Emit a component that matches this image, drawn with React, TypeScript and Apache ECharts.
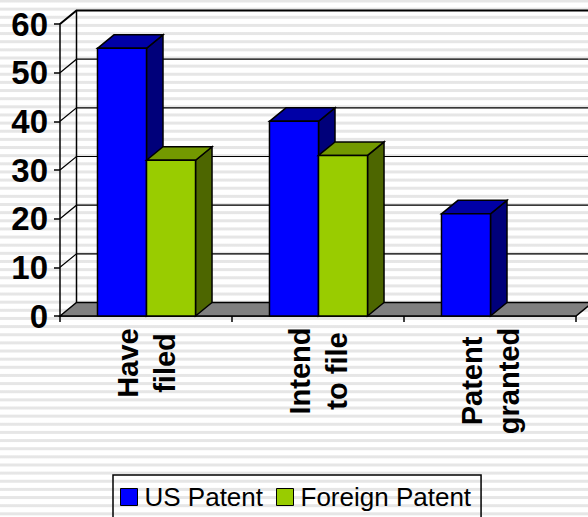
import React, { useEffect, useRef } from "react";
import * as echarts from "echarts";

const categories = ["Have\nfiled", "Intend\nto file", "Patent\ngranted"];
const usPatent = [55, 40, 21];
const foreignPatent = [32, 33, null];
const yTicks = [0, 10, 20, 30, 40, 50, 60];
const labelBlock = [70, 86, 106];

const DX = 16.5;
const DY = 13.5;
const BAR_RATIO = 0.285;
const BAR_SHIFT = 0.5;

function barItem(offsetSign: number, front: string, top: string, side: string) {
  return (params: any, api: any) => {
    const v = api.value(1);
    if (v == null || isNaN(v)) return null;
    const c = api.coord([api.value(0), v]);
    const z = api.coord([api.value(0), 0]);
    const w = api.size([1, 0])[0] * BAR_RATIO;
    const x0 = (offsetSign < 0 ? c[0] - w : c[0]) + BAR_SHIFT;
    const x1 = x0 + w;
    const lineStyle = { stroke: "#000", lineWidth: 1.5 };
    return {
      type: "group",
      children: [
        {
          type: "polygon",
          shape: { points: [[x1, c[1]], [x1 + DX, c[1] - DY], [x1 + DX, z[1] - DY], [x1, z[1]]] },
          style: { fill: side, ...lineStyle },
        },
        {
          type: "polygon",
          shape: { points: [[x0, c[1]], [x0 + DX, c[1] - DY], [x1 + DX, c[1] - DY], [x1, c[1]]] },
          style: { fill: top, ...lineStyle },
        },
        {
          type: "rect",
          shape: { x: x0, y: c[1], width: w, height: z[1] - c[1] },
          style: { fill: front, ...lineStyle },
        },
      ],
    };
  };
}

function wallItem(params: any, api: any) {
  const tick = api.value(1);
  const cs = params.coordSys;
  const y = api.coord([0, tick])[1];
  const xl = cs.x;
  const xr = cs.x + cs.width;
  const children: any[] = [];
  if (tick === 0) {
    children.push({
      type: "polygon",
      shape: { points: [[xl, y], [xl + DX, y - DY], [xr + DX, y - DY], [xr, y]] },
      style: { fill: "#808080", stroke: "#000", lineWidth: 1.5 },
    });
    children.push({
      type: "line",
      shape: { x1: xl + DX, y1: y - DY, x2: xl + DX, y2: cs.y - DY },
      style: { stroke: "#000", lineWidth: 1.5 },
    });
  } else {
    children.push({
      type: "polyline",
      shape: { points: [[xl, y], [xl + DX, y - DY], [xr + DX, y - DY]] },
      style: { fill: "none", stroke: "#000", lineWidth: tick === 60 ? 2 : 1.2 },
    });
  }
  return { type: "group", children };
}

export default function App() {
  const ref = useRef<HTMLDivElement>(null);
  useEffect(() => {
    const chart = echarts.init(ref.current!, null, { renderer: "svg" });
    const rich: any = {};
    labelBlock.forEach((w, i) => {
      rich["w" + i] = {
        width: w,
        align: "center",
        fontFamily: "Liberation Sans",
        fontWeight: "bold",
        fontSize: 29,
        lineHeight: 37,
        color: "#000",
      };
    });
    chart.setOption({
      animation: false,
      backgroundColor: "transparent",
      grid: { left: 60, right: 12, top: 24, bottom: 201 },
      legend: {
        left: 113,
        top: 475,
        padding: [9, 10, 8, 7],
        itemWidth: 17,
        itemHeight: 17,
        itemGap: 13,
        icon: "rect",
        borderColor: "#000",
        borderWidth: 1.5,
        data: ["US Patent", "Foreign Patent"],
        textStyle: { fontFamily: "Liberation Sans", fontSize: 26, color: "#000", padding: [0, 0, 0, 2] },
        itemStyle: { borderColor: "#000", borderWidth: 1 },
      },
      xAxis: {
        type: "category",
        data: categories,
        axisLine: { show: true, lineStyle: { color: "#000", width: 1.5 } },
        axisTick: { show: true, length: 6, lineStyle: { color: "#000", width: 1.5 } },
        axisLabel: {
          rotate: 90,
          interval: 0,
          margin: 12,
          formatter: (v: string) => {
            const i = categories.indexOf(v);
            return v.split("\n").map((s) => `{w${i}|${s}}`).join("\n");
          },
          rich,
        },
      },
      yAxis: {
        type: "value",
        min: 0,
        max: 60,
        interval: 10,
        splitLine: { show: false },
        axisLine: { show: true, lineStyle: { color: "#000", width: 1.5 } },
        axisTick: { show: true, length: 6, lineStyle: { color: "#000", width: 1.5 } },
        axisLabel: {
          margin: 12,
          fontFamily: "Liberation Sans",
          fontWeight: "bold",
          fontSize: 33,
          color: "#000",
        },
      },
      series: [
        {
          type: "custom",
          silent: true,
          z: 1,
          renderItem: wallItem,
          data: yTicks.map((t) => [0, t]),
          encode: { x: 0, y: 1 },
        },
        {
          type: "custom",
          name: "US Patent",
          z: 3,
          itemStyle: { color: "#0000FF" },
          renderItem: barItem(-1, "#0000FF", "#0000A6", "#00007A"),
          data: usPatent.map((v, i) => [i, v]),
          encode: { x: 0, y: 1 },
        },
        {
          type: "custom",
          name: "Foreign Patent",
          z: 4,
          itemStyle: { color: "#99CC00" },
          renderItem: barItem(1, "#99CC00", "#739900", "#4D6600"),
          data: foreignPatent.map((v, i) => [i, v]),
          encode: { x: 0, y: 1 },
        },
      ],
    });
    return () => chart.dispose();
  }, []);
  return (
    <div
      style={{
        position: "fixed",
        left: 0,
        top: 0,
        width: 588,
        height: 517,
        overflow: "hidden",
        background:
          "repeating-linear-gradient(180deg, #e6e6e6 0px, #e6e6e6 2px, #ffffff 3px, #ffffff 7.14px, #e6e6e6 8.14px)",
      }}
    >
      <div ref={ref} style={{ width: 588, height: 517 }} />
    </div>
  );
}
